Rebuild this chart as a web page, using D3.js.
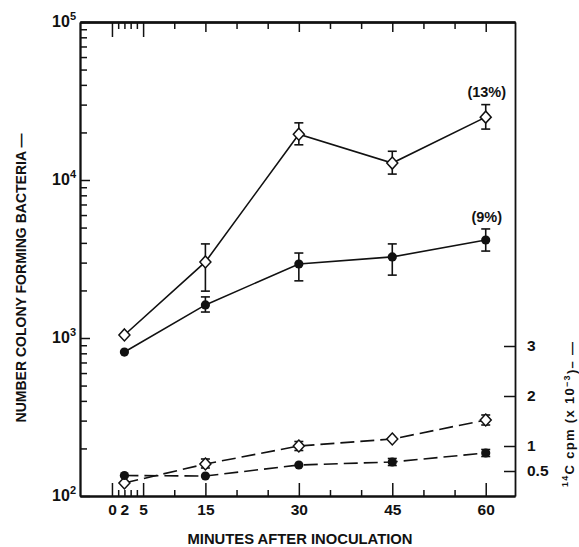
<!DOCTYPE html>
<html lang="en">
<head>
  <meta charset="UTF-8">
  <title>Colony forming bacteria after inoculation</title>
  <style>
    body { margin: 0; background: #fff; }
    svg { display: block; }
    text { font-family: "Liberation Sans", Arial, sans-serif; font-weight: bold; fill: #111; }
    .axis path, .axis line { stroke: #111; }
    .axis path { stroke-width: 1.8; }
    .axis line { stroke-width: 1.5; }
  </style>
  <script src="https://d3js.org/d3.v7.min.js"></script>
</head>
<body>
  <svg width="579" height="547"></svg>

  <script>
    // minutes after inoculation
    const minutes = [2, 15, 30, 45, 60];

    // colony forming bacteria, open diamonds (solid line)
    const cfuOpen   = [1045, 3030, 19500, 12800, 25000];
    const cfuOpenLo = [null, 1980, 16700, 10900, 21000];
    const cfuOpenHi = [null, 3940, 23000, 15200, 30000];

    // colony forming bacteria, filled circles (solid line)
    const cfuFilled   = [815, 1620, 2940, 3260, 4170];
    const cfuFilledLo = [null, 1460, 2300, 2500, 3550];
    const cfuFilledHi = [null, 1820, 3450, 3940, 4900];

    // 14C cpm (x 10^-3), dashed lines
    const cpmOpen   = [0.26, 0.64, 1.0, 1.14, 1.52];
    const cpmOpenLo = [null, 0.56, 0.91, null, 1.42];
    const cpmOpenHi = [null, 0.74, 1.09, null, 1.62];
    const cpmFilled   = [0.41, 0.40, 0.62, 0.68, 0.86];
    const cpmFilledLo = [null, null, null, 0.61, 0.79];
    const cpmFilledHi = [null, null, null, 0.75, 0.93];

    // percentage notes at 60 min
    const notes = [{t: 60, v: 25000, text: "(13%)", lift: 20}, {t: 60, v: 4170, text: "(9%)", lift: 18}];

    // ticks
    const xLabelTicks = [0, 2, 5, 15, 30, 45, 60];
    const xMajorTicks = [0, 5, 15, 30, 45, 60];
    const xMinorTicks = [1, 2, 3, 4, 10, 20, 25, 35, 40, 50, 55];
    const yDecades = [100, 1000, 10000, 100000];
    const rightTicks = [0.5, 1, 2, 3];

    const svg = d3.select("svg");
    const pLeft = 80, pRight = 515, pTop = 22, pBottom = 496;

    const x = d3.scaleLinear().domain([-5.13, 64.7]).range([pLeft, pRight]);
    const yL = d3.scaleLog().domain([100, 100000]).range([pBottom, pTop]);
    const yR = d3.scaleLinear().domain([0, 9.48]).range([pBottom, pTop]);

    // bottom axis: minor, major, labels
    svg.append("g").attr("class", "axis").attr("transform", `translate(0,${pBottom})`)
      .call(d3.axisBottom(x).tickValues(xMinorTicks).tickSize(-6).tickSizeOuter(0).tickFormat(""));
    svg.append("g").attr("class", "axis").attr("transform", `translate(0,${pBottom})`)
      .call(d3.axisBottom(x).tickValues(xMajorTicks).tickSize(-13).tickSizeOuter(0).tickFormat(""));
    const xl = svg.append("g").attr("class", "axis").attr("transform", `translate(0,${pBottom})`)
      .call(d3.axisBottom(x).tickValues(xLabelTicks).tickSize(0).tickPadding(8).tickSizeOuter(0));
    xl.select(".domain").remove();
    xl.selectAll("text").attr("font-size", 15.5).attr("font-family", null);

    // top axis (ticks only)
    svg.append("g").attr("class", "axis").attr("transform", `translate(0,${pTop})`)
      .call(d3.axisTop(x).tickValues(xMinorTicks).tickSize(-7).tickSizeOuter(0).tickFormat(""));
    svg.append("g").attr("class", "axis").attr("transform", `translate(0,${pTop})`)
      .call(d3.axisTop(x).tickValues([0, 5]).tickSize(-15).tickSizeOuter(0).tickFormat(""));
    svg.append("g").attr("class", "axis").attr("transform", `translate(0,${pTop})`)
      .call(d3.axisTop(x).tickValues([15, 30, 45, 60]).tickSize(-10).tickSizeOuter(0).tickFormat(""));

    // left log axis
    const minorLog = [];
    yDecades.slice(0, 3).forEach(d => { for (let k = 2; k <= 9; k++) minorLog.push(d * k); });
    svg.append("g").attr("class", "axis").attr("transform", `translate(${pLeft},0)`)
      .call(d3.axisLeft(yL).tickValues(minorLog).tickSize(-7).tickSizeOuter(0).tickFormat(""));
    const yl = svg.append("g").attr("class", "axis").attr("transform", `translate(${pLeft},0)`)
      .call(d3.axisLeft(yL).tickValues(yDecades).tickSize(-10).tickPadding(4).tickSizeOuter(0).tickFormat(""));
    yl.selectAll(".tick text").each(function(d) {
      const t = d3.select(this).attr("font-family", null).attr("dy", "0.4em");
      t.append("tspan").attr("font-size", 16).text("10");
      t.append("tspan").attr("font-size", 11).attr("dy", "-0.55em").text(Math.round(Math.log10(d)));
    });

    // right linear axis
    const yr = svg.append("g").attr("class", "axis").attr("transform", `translate(${pRight},0)`)
      .call(d3.axisRight(yR).tickValues(rightTicks).tickSize(-11).tickPadding(12).tickSizeOuter(0)
        .tickFormat(d => d === 0.5 ? "0.5" : d));
    yr.selectAll("text").attr("font-size", 15.5).attr("font-family", null);

    // error bars
    function errorBars(lo, hi, y) {
      const data = minutes.map((t, i) => ({t, lo: lo[i], hi: hi[i]})).filter(d => d.lo != null);
      const g = svg.append("g").attr("stroke", "#111").attr("stroke-width", 1.6);
      data.forEach(d => {
        const cx = x(d.t);
        g.append("line").attr("x1", cx).attr("x2", cx).attr("y1", y(d.lo)).attr("y2", y(d.hi));
        g.append("line").attr("x1", cx - 4.5).attr("x2", cx + 4.5).attr("y1", y(d.lo)).attr("y2", y(d.lo));
        g.append("line").attr("x1", cx - 4.5).attr("x2", cx + 4.5).attr("y1", y(d.hi)).attr("y2", y(d.hi));
      });
    }

    function series(values, y, dashed, open) {
      const pts = minutes.map((t, i) => [x(t), y(values[i])]);
      svg.append("path")
        .attr("d", d3.line()(pts))
        .attr("fill", "none")
        .attr("stroke", "#111")
        .attr("stroke-width", 1.6)
        .attr("stroke-dasharray", dashed ? "14,6" : null);
      const g = svg.append("g");
      if (open) {
        g.selectAll("path").data(pts).enter().append("path")
          .attr("d", d => `M${d[0]},${d[1] - 6}L${d[0] + 5.5},${d[1]}L${d[0]},${d[1] + 6}L${d[0] - 5.5},${d[1]}Z`)
          .attr("fill", "#fff").attr("stroke", "#111").attr("stroke-width", 1.5);
      } else {
        g.selectAll("circle").data(pts).enter().append("circle")
          .attr("cx", d => d[0]).attr("cy", d => d[1]).attr("r", 4.6)
          .attr("fill", "#111");
      }
    }

    errorBars(cfuOpenLo, cfuOpenHi, yL);
    errorBars(cfuFilledLo, cfuFilledHi, yL);
    errorBars(cpmOpenLo, cpmOpenHi, yR);
    errorBars(cpmFilledLo, cpmFilledHi, yR);
    series(cfuOpen, yL, false, true);
    series(cfuFilled, yL, false, false);
    series(cpmOpen, yR, true, true);
    series(cpmFilled, yR, true, false);

    svg.selectAll(".note").data(notes).enter().append("text")
      .attr("class", "note")
      .attr("x", d => x(d.t) + 1)
      .attr("y", d => yL(d.v) - d.lift)
      .attr("text-anchor", "middle")
      .attr("font-size", 14.5)
      .text(d => d.text);

    // axis titles
    svg.append("text")
      .attr("x", 300).attr("y", 544)
      .attr("text-anchor", "middle")
      .attr("font-size", 15.5)
      .attr("textLength", 225).attr("lengthAdjust", "spacingAndGlyphs")
      .text("MINUTES AFTER INOCULATION");

    svg.append("text")
      .attr("transform", "translate(26,278) rotate(-90)")
      .attr("text-anchor", "middle")
      .attr("font-size", 15.5)
      .attr("textLength", 289).attr("lengthAdjust", "spacingAndGlyphs")
      .text("NUMBER COLONY FORMING BACTERIA \u2014");

    const rt = svg.append("text")
      .attr("transform", "translate(572,487) rotate(-90)")
      .attr("text-anchor", "start")
      .attr("font-size", 13)
      .attr("textLength", 145).attr("lengthAdjust", "spacing");
    rt.append("tspan").attr("font-size", 9).attr("dy", "-0.5em").text("14");
    rt.append("tspan").attr("dy", "0.5em").text("C cpm (x 10");
    rt.append("tspan").attr("font-size", 9).attr("dy", "-0.5em").text("\u22123");
    rt.append("tspan").attr("dy", "0.5em").text(")\u2013 \u2014");
  </script>
</body>
</html>
